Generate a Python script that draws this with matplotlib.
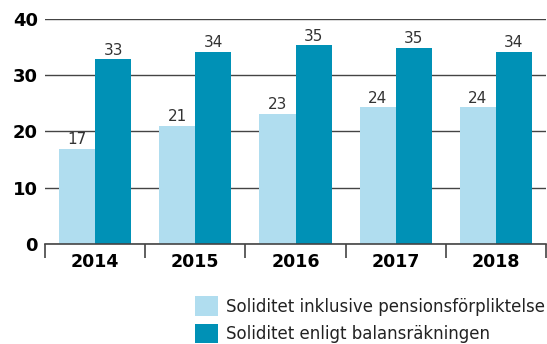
import numpy as np
import matplotlib
matplotlib.use("Agg")
import matplotlib.pyplot as plt

plt.rcParams['font.family'] = ['DejaVu Sans']

years = ["2014", "2015", "2016", "2017", "2018"]
inkl_pension = [16.9, 21.0, 23.1, 24.3, 24.3]
balans = [32.8, 34.2, 35.3, 34.9, 34.2]
serie_namn = ["Soliditet inklusive pensionsförpliktelse",
              "Soliditet enligt balansräkningen"]

ljus = "#b0ddef"
mork = "#0091b6"

fig = plt.figure(figsize=(5.47, 3.44), dpi=100)
ax = fig.add_axes([45 / 547, 100.3 / 344, 501 / 547, 224.7 / 344])

x = np.arange(len(years))
w = 0.36
b1 = ax.bar(x - w / 2, inkl_pension, w, color=ljus, zorder=3, label=serie_namn[0])
b2 = ax.bar(x + w / 2, balans, w, color=mork, zorder=3, label=serie_namn[1])

for bars, vals in [(b1, inkl_pension), (b2, balans)]:
    for r, v in zip(bars, vals):
        ax.text(r.get_x() + r.get_width() / 2, v + 0.3, f"{v:.0f}",
                ha="center", va="bottom", fontsize=11, color="#333333", zorder=4)

ax.set_xlim(-0.5, len(years) - 0.5)
ax.set_ylim(0, 40)
ax.set_yticks([0, 10, 20, 30, 40])
ax.yaxis.grid(True, color="#444444", linewidth=1.0, zorder=0)
ax.tick_params(axis="y", length=0, pad=5, labelsize=13)
for t in ax.get_yticklabels():
    t.set_fontweight("bold")

# year labels centred, tick marks between the groups
ax.set_xticks(x)
ax.set_xticklabels(years, fontsize=12.5, fontweight="bold")
ax.tick_params(axis="x", length=0, pad=7)
ax.set_xticks(np.arange(len(years) + 1) - 0.5, minor=True)
ax.tick_params(axis="x", which="minor", length=10, width=1.2, color="#444444", direction="out")

for s in ["top", "right", "left"]:
    ax.spines[s].set_visible(False)
ax.spines["bottom"].set_color("#444444")
ax.spines["bottom"].set_linewidth(1.2)
ax.spines["bottom"].set_zorder(5)

fig.legend(handles=[b1, b2], loc="lower right", bbox_to_anchor=(546 / 547, 0.0),
           frameon=False, fontsize=12, handlelength=1.4, handleheight=1.4,
           handletextpad=0.5, labelspacing=0.5, borderpad=0.05, borderaxespad=0,
           labelcolor="#222222")

fig.savefig("out.png", dpi=100)
